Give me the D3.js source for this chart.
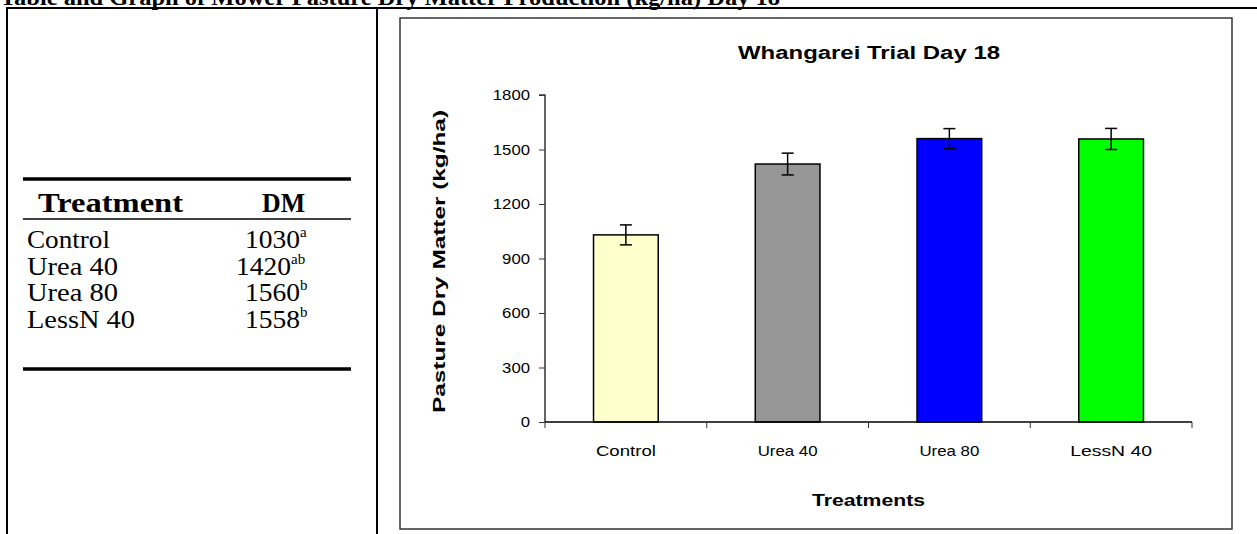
<!DOCTYPE html>
<html><head><meta charset="utf-8">
<script src="https://cdn.jsdelivr.net/npm/d3@7"></script>
<style>html,body{margin:0;padding:0;background:#fff;overflow:hidden}</style>
</head><body>
<svg id="c" width="1257" height="534"></svg>
<script>
const categories = ["Control", "Urea 40", "Urea 80", "LessN 40"];
const dmValues = [1030, 1420, 1560, 1558];
const errValues = [55, 60, 55, 58];
const letters = ["a", "ab", "b", "b"];
const barColors = ["#FFFFCC", "#969696", "#0000FF", "#00FF00"];
const yTicks = [0, 300, 600, 900, 1200, 1500, 1800];

const svg = d3.select("#c");
const serif = "'Liberation Serif','Times New Roman',serif";
const sans = "'Liberation Sans',Arial,sans-serif";

function fit(sel, len) { return sel.attr("textLength", len).attr("lengthAdjust", "spacingAndGlyphs"); }

// Page heading (cropped at top in the reference)
fit(svg.append("text").attr("x", 0).attr("y", 5)
  .style("font-family", serif).style("font-weight", "bold").style("font-size", "23px")
  .text("Table and Graph of Mower Pasture Dry Matter Production (kg/ha) Day 18"), 780);

// Outer layout table lines
svg.append("line").attr("x1", 6).attr("x2", 1257).attr("y1", 8).attr("y2", 8).attr("stroke", "#000").attr("stroke-width", 2);
svg.append("line").attr("x1", 7).attr("x2", 7).attr("y1", 7).attr("y2", 534).attr("stroke", "#000").attr("stroke-width", 2);
svg.append("line").attr("x1", 377).attr("x2", 377).attr("y1", 7).attr("y2", 534).attr("stroke", "#000").attr("stroke-width", 2);

// Left data table
const tbl = svg.append("g");
const tx0 = 23, tx1 = 351;
tbl.append("line").attr("x1", tx0).attr("x2", tx1).attr("y1", 179).attr("y2", 179).attr("stroke", "#000").attr("stroke-width", 3.5);
tbl.append("line").attr("x1", tx0).attr("x2", tx1).attr("y1", 219).attr("y2", 219).attr("stroke", "#000").attr("stroke-width", 1.5);
tbl.append("line").attr("x1", tx0).attr("x2", tx1).attr("y1", 369).attr("y2", 369).attr("stroke", "#000").attr("stroke-width", 3.5);
fit(tbl.append("text").attr("x", 38).attr("y", 212).style("font-family", serif).style("font-weight", "bold").style("font-size", "28px").text("Treatment"), 145);
fit(tbl.append("text").attr("x", 262).attr("y", 212).style("font-family", serif).style("font-weight", "bold").style("font-size", "28px").text("DM"), 43);
const rowY = d3.scalePoint().domain(categories).range([248, 328]);
const labelLen = [83, 91, 91, 108];
categories.forEach((c, i) => {
  fit(tbl.append("text").attr("x", 27).attr("y", rowY(c)).style("font-family", serif).style("font-size", "26px").text(c), labelLen[i]);
  const sx = letters[i].length > 1 ? 291 : 300;
  fit(tbl.append("text").attr("x", sx - 55).attr("y", rowY(c))
    .style("font-family", serif).style("font-size", "26px").text(d3.format("d")(dmValues[i])), 55);
  tbl.append("text").attr("x", sx).attr("y", rowY(c) - 11).style("font-family", serif).style("font-size", "15px").text(letters[i]);
});

// Chart box
svg.append("rect").attr("x", 400).attr("y", 18).attr("width", 832).attr("height", 511)
  .attr("fill", "#fff").attr("stroke", "#333").attr("stroke-width", 1.5);

const px0 = 545, px1 = 1192, py0 = 422, py1 = 95;
const x = d3.scaleBand().domain(categories).range([px0, px1]).paddingInner(0.6).paddingOuter(0.3);
const xb = d3.scaleBand().domain(categories).range([px0, px1]).padding(0);
const y = d3.scaleLinear().domain([0, 1800]).range([py0, py1]);

// Title
fit(svg.append("text").attr("x", 738).attr("y", 59)
  .style("font-family", sans).style("font-weight", "bold").style("font-size", "18px").text("Whangarei Trial Day 18"), 262);

// Y axis
const yAxis = svg.append("g").attr("transform", `translate(${px0},0)`)
  .call(d3.axisLeft(y).tickValues(yTicks).tickSize(6).tickPadding(9).tickFormat(d3.format("d")));
yAxis.select(".domain").attr("stroke", "#333").attr("stroke-width", 1.5).attr("d", `M-6,${py1}H0V${py0}`);
yAxis.selectAll(".tick line").attr("stroke", "#333");
yAxis.selectAll("text").style("font-family", sans).style("font-size", "15px").attr("fill", "#000")
  .each(function(d) { const n = String(d).length; d3.select(this).attr("textLength", n * 9.3).attr("lengthAdjust", "spacingAndGlyphs"); });

// Bars
svg.append("g").selectAll("rect").data(categories).join("rect")
  .attr("x", d => x(d)).attr("width", x.bandwidth())
  .attr("y", (d, i) => y(dmValues[i])).attr("height", (d, i) => y(0) - y(dmValues[i]))
  .attr("fill", (d, i) => barColors[i]).attr("stroke", "#000").attr("stroke-width", 1.5);

// Error bars
const eb = svg.append("g").attr("stroke", "#000").attr("stroke-width", 1.5);
categories.forEach((c, i) => {
  const cx = x(c) + x.bandwidth() / 2;
  const hi = y(dmValues[i] + errValues[i]), lo = y(dmValues[i] - errValues[i]);
  eb.append("line").attr("x1", cx).attr("x2", cx).attr("y1", hi).attr("y2", lo);
  eb.append("line").attr("x1", cx - 6).attr("x2", cx + 6).attr("y1", hi).attr("y2", hi);
  eb.append("line").attr("x1", cx - 6).attr("x2", cx + 6).attr("y1", lo).attr("y2", lo);
});

// X axis
const boundaries = categories.map(c => xb(c)).concat([px1]);
const xAxis = svg.append("g").attr("transform", `translate(0,${py0})`);
xAxis.append("line").attr("x1", px0).attr("x2", px1).attr("stroke", "#000").attr("stroke-width", 1.5);
xAxis.selectAll(".tk").data(boundaries).join("line").attr("class", "tk")
  .attr("x1", d => d).attr("x2", d => d).attr("y1", 0).attr("y2", 6).attr("stroke", "#333");
const xLabLen = [60, 60, 60, 82];
xAxis.selectAll(".lb").data(categories).join("text").attr("class", "lb")
  .attr("x", d => xb(d) + xb.bandwidth() / 2).attr("y", 34).attr("text-anchor", "middle")
  .style("font-family", sans).style("font-size", "15px")
  .attr("textLength", (d, i) => xLabLen[i]).attr("lengthAdjust", "spacingAndGlyphs").text(d => d);

// Axis titles
fit(svg.append("text").attr("x", (px0 + px1) / 2).attr("y", 506).attr("text-anchor", "middle")
  .style("font-family", sans).style("font-weight", "bold").style("font-size", "17px").text("Treatments"), 113);
fit(svg.append("text").attr("transform", `translate(445,${(py0 + py1) / 2 + 3}) rotate(-90)`).attr("text-anchor", "middle")
  .style("font-family", sans).style("font-weight", "bold").style("font-size", "17px").text("Pasture Dry Matter (kg/ha)"), 303);
</script>
</body></html>
